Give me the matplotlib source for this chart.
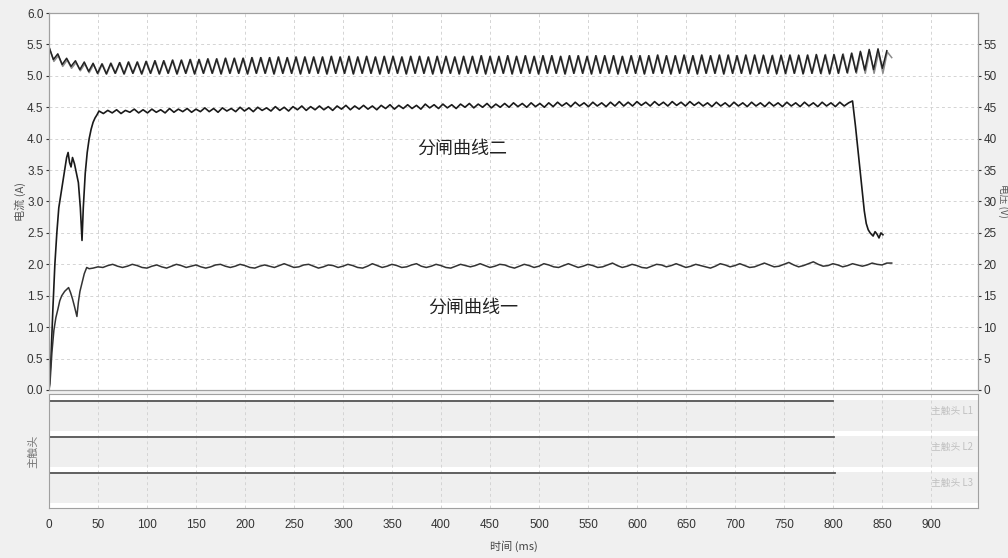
import numpy as np
import matplotlib
matplotlib.use("Agg")
import matplotlib.pyplot as plt

plt.rcParams['font.family'] = ['Liberation Sans Narrow', 'Liberation Sans', 'Noto Sans CJK SC', 'DejaVu Sans']

# ---- data ----
# voltage, black trace: one value every 4.5 ms (peaks / troughs of the ripple)
volt_a_t = np.arange(0, 856, 4.5)
volt_a = [
    54.6, 52.6, 53.5, 51.8, 52.8, 51.5, 52.4, 51.0, 52.2, 50.7, 52.0, 50.4,
    51.9, 50.3, 52.0, 50.4, 52.1, 50.3, 52.2, 50.4, 52.2, 50.3,
    52.3, 50.4, 52.4, 50.3, 52.4, 50.4, 52.5, 50.3, 52.5, 50.4,
    52.6, 50.3, 52.6, 50.4, 52.7, 50.4, 52.7, 50.3, 52.8, 50.4,
    52.8, 50.4, 52.8, 50.3, 52.9, 50.4, 52.9, 50.4, 52.9, 50.3,
    53.0, 50.4, 52.9, 50.4, 53.0, 50.3, 53.0, 50.4, 53.0, 50.4,
    53.0, 50.3, 53.1, 50.4, 53.0, 50.4, 53.1, 50.3, 53.0, 50.4,
    53.1, 50.4, 53.0, 50.3, 53.1, 50.4, 53.1, 50.4, 53.0, 50.3,
    53.1, 50.4, 53.1, 50.4, 53.0, 50.3, 53.1, 50.4, 53.1, 50.4,
    53.0, 50.3, 53.1, 50.4, 53.1, 50.4, 53.2, 50.3, 53.1, 50.4,
    53.1, 50.4, 53.2, 50.3, 53.1, 50.4, 53.2, 50.4, 53.1, 50.3,
    53.2, 50.4, 53.2, 50.4, 53.1, 50.3, 53.2, 50.4, 53.2, 50.4,
    53.1, 50.3, 53.2, 50.4, 53.2, 50.4, 53.2, 50.3, 53.1, 50.4,
    53.2, 50.4, 53.2, 50.3, 53.2, 50.4, 53.3, 50.4, 53.2, 50.3,
    53.2, 50.4, 53.3, 50.4, 53.2, 50.3, 53.3, 50.4, 53.2, 50.4,
    53.3, 50.3, 53.3, 50.4, 53.2, 50.4, 53.3, 50.3, 53.3, 50.4,
    53.3, 50.4, 53.2, 50.3, 53.3, 50.4, 53.3, 50.4, 53.3, 50.3,
    53.3, 50.4, 53.4, 50.4, 53.3, 50.3, 53.4, 50.4, 53.4, 50.5,
    53.6, 50.6, 53.9, 50.9, 54.2, 51.0, 54.3, 51.2, 54.0,
]

# voltage, grey trace
volt_b_t = np.arange(0.5, 862, 4.5)
volt_b = [
    54.4, 52.3, 53.2, 51.5, 52.5, 51.2, 52.1, 50.8, 51.9, 50.5, 51.8, 50.3,
    51.9, 50.3, 52.0, 50.4, 52.1, 50.3, 52.2, 50.4, 52.2, 50.3,
    52.3, 50.4, 52.4, 50.3, 52.4, 50.4, 52.5, 50.3, 52.5, 50.4,
    52.6, 50.3, 52.6, 50.4, 52.7, 50.4, 52.7, 50.3, 52.8, 50.4,
    52.8, 50.4, 52.8, 50.3, 52.9, 50.4, 52.9, 50.4, 52.9, 50.3,
    53.0, 50.4, 52.9, 50.4, 53.0, 50.3, 53.0, 50.4, 53.0, 50.4,
    53.0, 50.3, 53.1, 50.4, 53.0, 50.4, 53.1, 50.3, 53.0, 50.4,
    53.1, 50.4, 53.0, 50.3, 53.1, 50.4, 53.1, 50.4, 53.0, 50.3,
    53.1, 50.4, 53.1, 50.4, 53.0, 50.3, 53.1, 50.4, 53.1, 50.4,
    53.0, 50.3, 53.1, 50.4, 53.1, 50.4, 53.2, 50.3, 53.1, 50.4,
    53.1, 50.4, 53.2, 50.3, 53.1, 50.4, 53.2, 50.4, 53.1, 50.3,
    53.2, 50.4, 53.2, 50.4, 53.1, 50.3, 53.2, 50.4, 53.2, 50.4,
    53.1, 50.3, 53.2, 50.4, 53.2, 50.4, 53.2, 50.3, 53.1, 50.4,
    53.2, 50.4, 53.2, 50.3, 53.2, 50.4, 53.3, 50.4, 53.2, 50.3,
    53.2, 50.4, 53.3, 50.4, 53.2, 50.3, 53.3, 50.4, 53.2, 50.4,
    53.3, 50.3, 53.3, 50.4, 53.2, 50.4, 53.3, 50.3, 53.3, 50.4,
    53.2, 50.4, 53.3, 50.4, 53.2, 50.3, 53.3, 50.4, 53.2, 50.4,
    53.3, 50.4, 53.3, 50.3, 53.4, 50.4, 53.3, 50.4, 53.5, 50.4,
    53.6, 50.4, 53.7, 50.4, 53.8, 50.4, 53.7, 50.4, 53.8, 52.9,
]

# current, curve 2 (upper): start-up transient, steady ripple, drop at the end
cur2_start_t = [0, 2, 4, 6, 8, 10, 12, 14, 16, 18, 19.5, 21, 22.5, 24, 26, 28,
                30, 32, 33.7, 35, 37, 39, 41, 43, 45, 47, 49]
cur2_start = [0.0, 0.5, 1.3, 2.0, 2.5, 2.9, 3.1, 3.3, 3.5, 3.7, 3.78, 3.62, 3.55,
              3.7, 3.6, 3.45, 3.3, 2.9, 2.38, 2.9, 3.45, 3.78, 4.0, 4.15, 4.26,
              4.33, 4.38]
cur2_mid_t = np.arange(51, 817, 4.5)
cur2_mid = [
    4.44, 4.40, 4.45, 4.41, 4.46, 4.40, 4.45, 4.42, 4.47, 4.41,
    4.46, 4.41, 4.47, 4.42, 4.46, 4.41, 4.48, 4.42, 4.47, 4.43,
    4.48, 4.42, 4.47, 4.43, 4.49, 4.43, 4.48, 4.42, 4.49, 4.44,
    4.48, 4.43, 4.50, 4.44, 4.49, 4.43, 4.50, 4.45, 4.49, 4.44,
    4.51, 4.45, 4.50, 4.44, 4.51, 4.46, 4.52, 4.45, 4.51, 4.46,
    4.52, 4.46, 4.51, 4.45, 4.52, 4.47, 4.53, 4.46, 4.52, 4.47,
    4.53, 4.47, 4.52, 4.46, 4.53, 4.48, 4.54, 4.47, 4.53, 4.48,
    4.54, 4.48, 4.53, 4.47, 4.55, 4.49, 4.54, 4.48, 4.55, 4.49,
    4.54, 4.48, 4.55, 4.50, 4.56, 4.49, 4.55, 4.50, 4.56, 4.49,
    4.55, 4.50, 4.56, 4.50, 4.57, 4.51, 4.56, 4.50, 4.57, 4.51,
    4.56, 4.50, 4.57, 4.51, 4.58, 4.52, 4.57, 4.51, 4.58, 4.52,
    4.57, 4.51, 4.58, 4.52, 4.57, 4.51, 4.58, 4.52, 4.59, 4.52,
    4.58, 4.52, 4.59, 4.53, 4.58, 4.52, 4.59, 4.53, 4.58, 4.52,
    4.59, 4.53, 4.58, 4.52, 4.59, 4.53, 4.58, 4.52, 4.57, 4.51,
    4.58, 4.52, 4.57, 4.51, 4.58, 4.52, 4.57, 4.51, 4.58, 4.52,
    4.57, 4.51, 4.58, 4.52, 4.57, 4.51, 4.58, 4.52, 4.57, 4.51,
    4.58, 4.52, 4.57, 4.51, 4.58, 4.52, 4.57, 4.51, 4.58, 4.52,
    4.57,
]
cur2_end_t = [820, 823, 826, 829, 832, 834, 836, 838, 841, 843, 845, 847, 849, 851]
cur2_end = [4.6, 4.2, 3.75, 3.3, 2.85, 2.65, 2.55, 2.5, 2.45, 2.52, 2.48, 2.42, 2.5, 2.47]

# current, curve 1 (lower)
cur1_start_t = [0, 1, 3, 5, 7, 9, 11, 13, 16, 18, 20, 22, 24, 26, 28.5, 30, 31.6,
                 34, 36, 38.5, 41]
cur1_start = [0.0, 0.1, 0.6, 0.95, 1.15, 1.28, 1.42, 1.5, 1.57, 1.6, 1.63, 1.55,
              1.45, 1.33, 1.17, 1.4, 1.57, 1.72, 1.85, 1.95, 1.93]
cur1_mid_t = np.arange(45, 861, 5)
cur1_mid = [
    1.94, 1.96, 1.95, 1.98, 2.00, 1.97, 1.95, 1.97, 2.00, 1.98,
    1.95, 1.94, 1.97, 1.99, 1.96, 1.94, 1.97, 2.00, 1.98, 1.95,
    1.97, 1.99, 1.96, 1.94, 1.96, 1.99, 2.00, 1.97, 1.95, 1.97,
    2.00, 1.98, 1.95, 1.94, 1.97, 1.99, 1.97, 1.95, 1.98, 2.01,
    1.98, 1.95, 1.96, 1.99, 2.00, 1.97, 1.94, 1.96, 1.99, 1.98,
    1.95, 1.97, 2.00, 1.98, 1.95, 1.94, 1.97, 2.01, 1.98, 1.95,
    1.97, 2.00, 1.98, 1.95, 1.96, 1.99, 2.01, 1.97, 1.95, 1.97,
    2.00, 1.98, 1.95, 1.94, 1.97, 2.00, 1.98, 1.96, 1.98, 2.01,
    1.98, 1.95, 1.97, 2.00, 1.99, 1.96, 1.94, 1.97, 2.00, 1.98,
    1.95, 1.97, 2.01, 1.99, 1.96, 1.95, 1.98, 2.01, 1.98, 1.95,
    1.97, 2.00, 1.98, 1.95, 1.96, 1.99, 2.02, 1.98, 1.95, 1.97,
    2.00, 1.98, 1.95, 1.94, 1.97, 2.00, 1.99, 1.96, 1.98, 2.01,
    1.98, 1.95, 1.97, 2.00, 1.98, 1.96, 1.94, 1.97, 2.01, 1.99,
    1.96, 1.98, 2.01, 1.98, 1.95, 1.96, 1.99, 2.02, 1.99, 1.96,
    1.97, 2.00, 2.03, 1.99, 1.96, 1.98, 2.01, 2.04, 2.00, 1.97,
    1.98, 2.01, 1.99, 1.96, 1.98, 2.01, 1.99, 1.97, 1.99, 2.02,
    2.00, 1.99, 2.02, 2.02,
]

# main contacts: time (ms) at which each contact trace ends
contact_names = ['主触头 L1', '主触头 L2', '主触头 L3']
contact_end = [800, 801, 802]

curve_labels = ['分闸曲线二', '分闸曲线一']

# ---- figure ----
bg = '#f0f0f0'
fig = plt.figure(figsize=(10.08, 5.58), dpi=100, facecolor=bg)
ax = fig.add_axes([0.0486, 0.3011, 0.9216, 0.6756], facecolor='white')
ax2 = ax.twinx()
axc = fig.add_axes([0.0486, 0.0896, 0.9216, 0.2043], facecolor='white', sharex=ax)

xmax = 948
ax.set_xlim(0, xmax)
ax.set_ylim(0, 6)
ax2.set_ylim(0, 60)

grid_kw = dict(color='#d4d4d4', linestyle=(0, (3, 3)), linewidth=0.7)
ax.grid(True, **grid_kw)
ax.set_axisbelow(True)
ax.set_yticks(np.arange(0, 6.01, 0.5))
ax.set_xticks(np.arange(0, 901, 50))
ax2.set_yticks(np.arange(0, 56, 5))
ax.tick_params(axis='x', labelbottom=False, length=0)
ax.tick_params(axis='y', labelsize=8.5, length=2, colors='#333333', pad=2)
ax2.tick_params(axis='y', labelsize=8.5, length=2, colors='#333333', pad=2)
for a in (ax, ax2, axc):
    for s in a.spines.values():
        s.set_color('#a0a0a0')

# voltage traces (right axis)
ax2.plot(volt_b_t, volt_b, color='#8c8c8c', lw=1.1)
ax2.plot(volt_a_t, volt_a, color='#222222', lw=1.1)

# current traces (left axis)
c2_t = np.concatenate([cur2_start_t, cur2_mid_t, cur2_end_t])
c2_v = np.concatenate([cur2_start, cur2_mid, cur2_end])
c1_t = np.concatenate([cur1_start_t, cur1_mid_t])
c1_v = np.concatenate([cur1_start, cur1_mid])
ax.plot(c2_t, c2_v, color='#1a1a1a', lw=1.2)
ax.plot(c1_t, c1_v, color='#333333', lw=1.1)

cjk = ['Noto Sans CJK SC', 'DejaVu Sans']
ax.text(376, 3.84, curve_labels[0], fontsize=13, family=cjk, color='#222222', va='center')
ax.text(387, 1.31, curve_labels[1], fontsize=13, family=cjk, color='#222222', va='center')

ax.set_ylabel('电流 (A)', fontsize=8, family=cjk, color='#555555', labelpad=1)
fig.text(0.9955, 0.64, '电压 (V)', fontsize=7, family=cjk, color='#555555',
         rotation=270, ha='center', va='center')

# contact lanes
axc.set_ylim(0, 3.17)
axc.set_yticks([])
axc.grid(True, axis='x', **grid_kw)
axc.set_axisbelow(True)
for i, (name, t_end) in enumerate(zip(contact_names, contact_end)):
    top = 3 - i
    axc.axhspan(top - 0.86, top, color='#efefef', zorder=0, lw=0)
    axc.plot([0, t_end], [top - 0.03, top - 0.03], color='#555555', lw=1.3)
    axc.text(0.995, (top - 0.3) / 3.17, name, transform=axc.transAxes, ha='right',
             va='center', fontsize=7, family=cjk, color='#c0c0c0')
axc.set_ylabel('主触头', fontsize=8, family=cjk, color='#777777', labelpad=8)
axc.tick_params(axis='x', labelsize=8.5, length=0, colors='#333333', pad=8)
axc.set_xlabel('时间 (ms)', fontsize=8, family=cjk, color='#444444', labelpad=7)

fig.savefig('out.png', dpi=100, facecolor=bg)
